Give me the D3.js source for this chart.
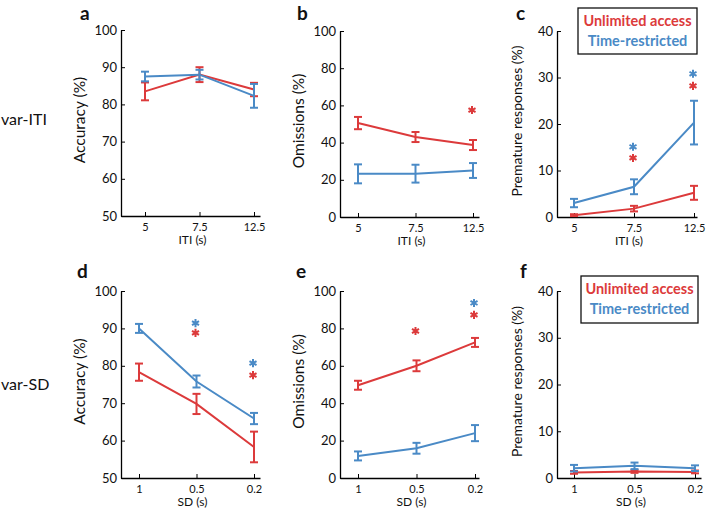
<!DOCTYPE html>
<html><head><meta charset="utf-8">
<script src="https://cdn.jsdelivr.net/npm/d3@7/dist/d3.min.js"></script>
<style>
body{margin:0;background:#fff;}
svg{display:block;}
text{font-family:Lato,"Noto Sans",sans-serif;fill:#111;}
</style></head><body>
<svg id="c" width="707" height="509"></svg>
<script>
// ---------- data ----------
const itiLabels = ["5", "7.5", "12.5"];
const sdLabels = ["1", "0.5", "0.2"];
const seriesNames = ["Unlimited access", "Time-restricted"];

const accITI_unl = [83.5, 88.0, 84.0];  const accITI_unl_err = [2.4, 2.0, 1.8];
const accITI_tr  = [87.5, 88.0, 82.3];  const accITI_tr_err  = [1.3, 1.3, 3.2];
const omITI_unl  = [50.5, 43.0, 38.7];  const omITI_unl_err  = [3.3, 2.7, 2.7];
const omITI_tr   = [23.2, 23.3, 25.0];  const omITI_tr_err   = [5.1, 4.8, 4.0];
const preITI_unl = [0.4, 1.8, 5.2];     const preITI_unl_err = [0.2, 0.6, 1.5];
const preITI_tr  = [3.0, 6.5, 20.3];    const preITI_tr_err  = [0.9, 1.6, 4.7];

const accSD_unl = [78.3, 69.8, 58.3];   const accSD_unl_err = [2.3, 2.7, 4.1];
const accSD_tr  = [90.0, 75.8, 65.9];   const accSD_tr_err  = [1.2, 1.6, 1.5];
const omSD_unl  = [49.6, 60.0, 72.5];   const omSD_unl_err  = [2.4, 2.9, 2.4];
const omSD_tr   = [11.8, 15.9, 24.0];   const omSD_tr_err   = [2.4, 2.9, 4.3];
const preSD_unl = [1.2, 1.4, 1.3];      const preSD_unl_err = [0.3, 0.3, 0.3];
const preSD_tr  = [2.1, 2.6, 2.1];      const preSD_tr_err  = [0.7, 0.7, 0.6];

// significance asterisks: [category index, y value, series (0=unl,1=tr)]
const sigOmITI  = [[2, 57.5, 0]];
const sigPreITI = [[1, 15.1, 1], [1, 12.7, 0], [2, 30.8, 1], [2, 28.2, 0]];
const sigAccSD  = [[1, 91.4, 1], [1, 88.8, 0], [2, 80.7, 1], [2, 77.5, 0]];
const sigOmSD   = [[1, 78.6, 0], [2, 93.6, 1], [2, 87.2, 0]];

const colors = ["#dc3a3b", "#4a8ac6"];

// ---------- layout ----------
const panels = [
  {id:"a", left:121, right:260, x1:145, x3:254, top:30, bottom:216, dom:[50,100], step:10, ylab:"Accuracy (%)", yfs:15.5, ylx:85, xlab:"ITI (s)", xl:itiLabels,
   s:[[accITI_unl,accITI_unl_err],[accITI_tr,accITI_tr_err]], sig:[]},
  {id:"b", left:340, right:479, x1:358, x3:473, top:31, bottom:217, dom:[0,100], step:20, ylab:"Omissions (%)", yfs:15.5, ylx:304, xlab:"ITI (s)", xl:itiLabels,
   s:[[omITI_unl,omITI_unl_err],[omITI_tr,omITI_tr_err]], sig:sigOmITI},
  {id:"c", left:557, right:697, x1:574, x3:694, top:31, bottom:217, dom:[0,40], step:10, ylab:"Premature responses (%)", yfs:14, ylx:522, xlab:"ITI (s)", xl:itiLabels,
   s:[[preITI_unl,preITI_unl_err],[preITI_tr,preITI_tr_err]], sig:sigPreITI, legend:[578,8,119,46]},
  {id:"d", left:121, right:260, x1:139, x3:254, top:291, bottom:478, dom:[50,100], step:10, ylab:"Accuracy (%)", yfs:15.5, ylx:85, xlab:"SD (s)", xl:sdLabels,
   s:[[accSD_unl,accSD_unl_err],[accSD_tr,accSD_tr_err]], sig:sigAccSD},
  {id:"e", left:340, right:479, x1:358, x3:475, top:291, bottom:478, dom:[0,100], step:20, ylab:"Omissions (%)", yfs:15.5, ylx:304, xlab:"SD (s)", xl:sdLabels,
   s:[[omSD_unl,omSD_unl_err],[omSD_tr,omSD_tr_err]], sig:sigOmSD},
  {id:"f", left:557, right:701, x1:574, x3:695, top:291, bottom:478, dom:[0,40], step:10, ylab:"Premature responses (%)", yfs:14, ylx:522, xlab:"SD (s)", xl:sdLabels,
   s:[[preSD_unl,preSD_unl_err],[preSD_tr,preSD_tr_err]], sig:[], legend:[581,276,117,47]},
];
const letterPos = {a:[80,20], b:[297,20], c:[516,20], d:[77,278], e:[296,278], f:[520,278]};

const svg = d3.select("#c");

// row labels
svg.append("text").attr("x",1).attr("y",125).attr("font-size",16).text("var-ITI");
svg.append("text").attr("x",1).attr("y",390).attr("font-size",16).text("var-SD");

// asterisk marker path
const astSym = d3.symbolAsterisk ? d3.symbol().type(d3.symbolAsterisk).size(46)() : (() => {
  const r = 4, p = d3.path();
  for (let k = 0; k < 3; k++) { const a = Math.PI/2 + k*Math.PI/3;
    p.moveTo(r*Math.cos(a), r*Math.sin(a)); p.lineTo(-r*Math.cos(a), -r*Math.sin(a)); }
  return p.toString();
})();

panels.forEach(p => {
  const g = svg.append("g");
  const xb = d3.scaleLinear().domain([1,3]).range([p.x1,p.x3]);
  const x = d3.scaleLinear().domain([xb.invert(p.left), xb.invert(p.right)]).range([p.left,p.right]);
  const y = d3.scaleLinear().domain(p.dom).range([p.bottom,p.top]);

  const ya = g.append("g").attr("transform",`translate(${p.left},0)`)
    .call(d3.axisLeft(y).tickValues(d3.range(p.dom[0],p.dom[1]+0.01,p.step)).tickSizeInner(-4).tickSizeOuter(0).tickPadding(4));
  ya.selectAll("text").attr("font-size",13).attr("font-family","Lato, sans-serif").attr("fill","#111");
  const xa = g.append("g").attr("transform",`translate(0,${p.bottom})`)
    .call(d3.axisBottom(x).tickValues([1,2,3]).tickFormat((d,i)=>p.xl[i]).tickSizeInner(-4).tickSizeOuter(0).tickPadding(7));
  xa.selectAll("text").attr("font-size",11).attr("font-family","Lato, sans-serif").attr("fill","#111");
  [ya,xa].forEach(a=>{a.select(".domain").attr("stroke","#000").attr("stroke-width",1.3); a.selectAll(".tick line").attr("stroke","#000");});

  g.append("text").attr("transform",`translate(${p.ylx},${(p.top+p.bottom)/2 - 3}) rotate(-90)`)
    .attr("text-anchor","middle").attr("font-size",p.yfs).text(p.ylab);
  g.append("text").attr("x",(p.left+p.right)/2+2).attr("y",p.bottom+28).attr("text-anchor","middle")
    .attr("font-size",12).text(p.xlab);

  const line = d3.line().x((d,i)=>x(i+1)).y(d=>y(d));
  p.s.forEach(([vals,errs],si) => {
    const col = colors[si];
    g.append("path").datum(vals).attr("d",line).attr("fill","none").attr("stroke",col).attr("stroke-width",2);
    const eb = g.append("g").attr("stroke",col).attr("stroke-width",2);
    vals.forEach((v,i)=>{
      const cx = x(i+1), hi = y(v+errs[i]), lo = y(v-errs[i]);
      eb.append("line").attr("x1",cx).attr("x2",cx).attr("y1",hi).attr("y2",lo);
      eb.append("line").attr("x1",cx-4).attr("x2",cx+4).attr("y1",hi).attr("y2",hi);
      eb.append("line").attr("x1",cx-4).attr("x2",cx+4).attr("y1",lo).attr("y2",lo);
    });
  });

  p.sig.forEach(([i,v,si]) => {
    g.append("path").attr("d",astSym).attr("transform",`translate(${x(i+1)-1},${y(v)})`)
      .attr("fill","none").attr("stroke",colors[si]).attr("stroke-width",2);
  });

  const lp = letterPos[p.id];
  svg.append("text").attr("x",lp[0]).attr("y",lp[1]).attr("font-size",19).attr("font-weight","bold").text(p.id);

  if (p.legend) {
    const [lx,ly,lw,lh] = p.legend;
    g.append("rect").attr("x",lx).attr("y",ly).attr("width",lw).attr("height",lh).attr("fill","#fff").attr("stroke","#111").attr("stroke-width",1.3);
    seriesNames.forEach((n,si)=>{
      g.append("text").attr("x",lx+lw/2).attr("y",ly+18+si*20).attr("text-anchor","middle")
        .attr("font-size",14.5).attr("font-weight","bold").style("fill",colors[si]).text(n);
    });
  }
});
</script></body></html>
